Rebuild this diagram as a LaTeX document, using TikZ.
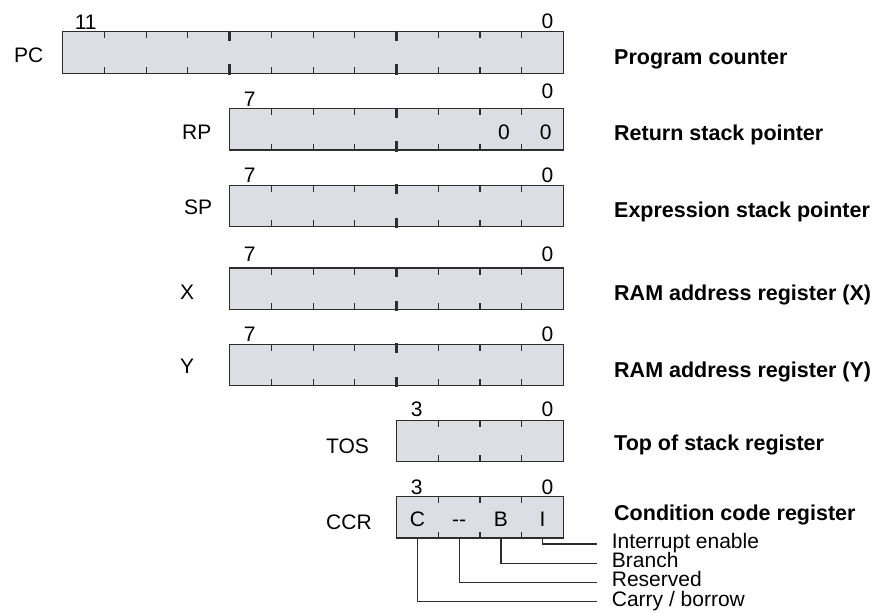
\documentclass[tikz,border=0pt]{standalone}
\usepackage{fontspec}
\setmainfont{Liberation Sans}
\usetikzlibrary{positioning}
\definecolor{regfill}{RGB}{221,222,227}
\definecolor{regline}{RGB}{45,45,45}
\tikzset{
	reg/.style={draw=regline,fill=regfill,line width=1.3pt,minimum height=41.5pt,inner sep=0pt,outer sep=0pt,anchor=north east},
	tick/.style={draw=regline,line width=1.1pt},
	nibble/.style={draw=regline,line width=2.6pt},
	bitno/.style={inner sep=0pt},
	cellbit/.style={anchor=base,inner sep=0pt},
	regname/.style={anchor=base west,inner sep=0pt},
	regdesc/.style={anchor=base west,inner sep=0pt,font=\fontsize{21.5}{25}\selectfont\bfseries},
	leader/.style={anchor=west,inner xsep=14.4pt,inner ysep=0pt,text height=12pt,text depth=3pt},
	lead/.style={draw=regline,line width=1.3pt}
}

\begin{document}
\begin{tikzpicture}[x=1pt,y=-1pt,font=\fontsize{21}{25}\selectfont]
				\useasboundingbox (0,0) rectangle (879,613);
				\node[reg,minimum width=500.8pt] (pc) at (563.5,31.7) {};
				\node[reg,minimum width=333.8pt] (rp) at (563.5,108.5) {};
				\node[reg,minimum width=333.8pt] (sp) at (563.5,185.3) {};
				\node[reg,minimum width=333.8pt] (xr) at (563.5,268) {};
				\node[reg,minimum width=333.8pt] (yr) at (563.5,344.3) {};
				\node[reg,minimum width=166.9pt] (tos) at (563.5,420.2) {};
				\node[reg,minimum width=166.9pt] (ccr) at (563.5,496.5) {};

				\foreach \r/\n in {pc/11,rp/7,sp/7,xr/7,yr/7,tos/3,ccr/3}
					\foreach \i in {1,...,\n}
						\draw[tick] (\r.north east) ++(-\i*41.73,0) -- ++(0,6.5) (\r.south east) ++(-\i*41.73,0) -- ++(0,-6.5);
				\foreach \r/\i in {pc/4,pc/8,rp/4,sp/4,xr/4,yr/4}
					\draw[nibble] (\r.north east) ++(-\i*41.73,-1) -- ++(0,10) (\r.south east) ++(-\i*41.73,1.5) -- ++(0,-10.5);

				\node[bitno] (pc11) [above=2.3pt of pc.north west,xshift=23pt] {11};
				\node[bitno] (pc0) [above=2.3pt of pc.north east,xshift=-16pt] {0};
				\node[bitno] (rp7) [above=2.1pt of rp.north west,xshift=20pt] {7};
				\node[bitno] (rp0) [above=9.4pt of rp.north east,xshift=-16pt] {0};
				\node[bitno] (sp7) [above=2.2pt of sp.north west,xshift=20pt] {7};
				\node[bitno] (sp0) [above=2.2pt of sp.north east,xshift=-16pt] {0};
				\node[bitno] (xr7) [above=5.9pt of xr.north west,xshift=20pt] {7};
				\node[bitno] (xr0) [above=5.9pt of xr.north east,xshift=-16pt] {0};
				\node[bitno] (yr7) [above=2.2pt of yr.north west,xshift=20pt] {7};
				\node[bitno] (yr0) [above=2.2pt of yr.north east,xshift=-16pt] {0};
				\node[bitno] (tos3) [above=2.8pt of tos.north west,xshift=20pt] {3};
				\node[bitno] (tos0) [above=2.8pt of tos.north east,xshift=-16pt] {0};
				\node[bitno] (ccr3) [above=1.8pt of ccr.north west,xshift=20pt] {3};
				\node[bitno] (ccr0) [above=1.8pt of ccr.north east,xshift=-16pt] {0};

				\node[cellbit] (rpz1) at (504,139.4) {0};
				\node[cellbit] (rpz0) at (545.7,139.4) {0};
				\node[cellbit] (cbit) at (417.5,526.4) {C};
				\node[cellbit] (rbit) at (459.2,526.4) {-{}-};
				\node[cellbit] (bbit) at (500.9,526.4) {B};
				\node[cellbit] (ibit) at (542.6,526.4) {I};

				\node[regname] (pcname) at (14,62.4) {PC};
				\node[regname] (rpname) at (182,139.4) {RP};
				\node[regname] (spname) at (184,214.1) {SP};
				\node[regname] (xrname) at (180,299.1) {X};
				\node[regname] (yrname) at (180,373.1) {Y};
				\node[regname] (tosname) at (326,453.5) {TOS};
				\node[regname] (ccrname) at (326,529.1) {CCR};

				\node[regdesc] (pcdesc) at (614,64.8) {Program counter};
				\node[regdesc] (rpdesc) at (614,140.8) {Return stack pointer};
				\node[regdesc] (spdesc) at (614,217.5) {Expression stack pointer};
				\node[regdesc] (xrdesc) at (614,300.8) {RAM address register (X)};
				\node[regdesc] (yrdesc) at (614,377.5) {RAM address register (Y)};
				\node[regdesc] (tosdesc) at (614,450.8) {Top of stack register};
				\node[regdesc] (ccrdesc) at (614,520.8) {Condition code register};

				\node[leader] (ienable) at (597.3,544) {Interrupt enable};
				\node[leader] (branch) at (597.3,563.3) {Branch};
				\node[leader] (reserved) at (597.3,582.3) {Reserved};
				\node[leader] (carry) at (597.3,601.7) {Carry / borrow};

				\draw[lead] (ibit |- ccr.south) |- (ienable.west);
				\draw[lead] (bbit |- ccr.south) |- (branch.west);
				\draw[lead] (rbit |- ccr.south) |- (reserved.west);
				\draw[lead] (cbit |- ccr.south) |- (carry.west);
			\end{tikzpicture}
\end{document}
